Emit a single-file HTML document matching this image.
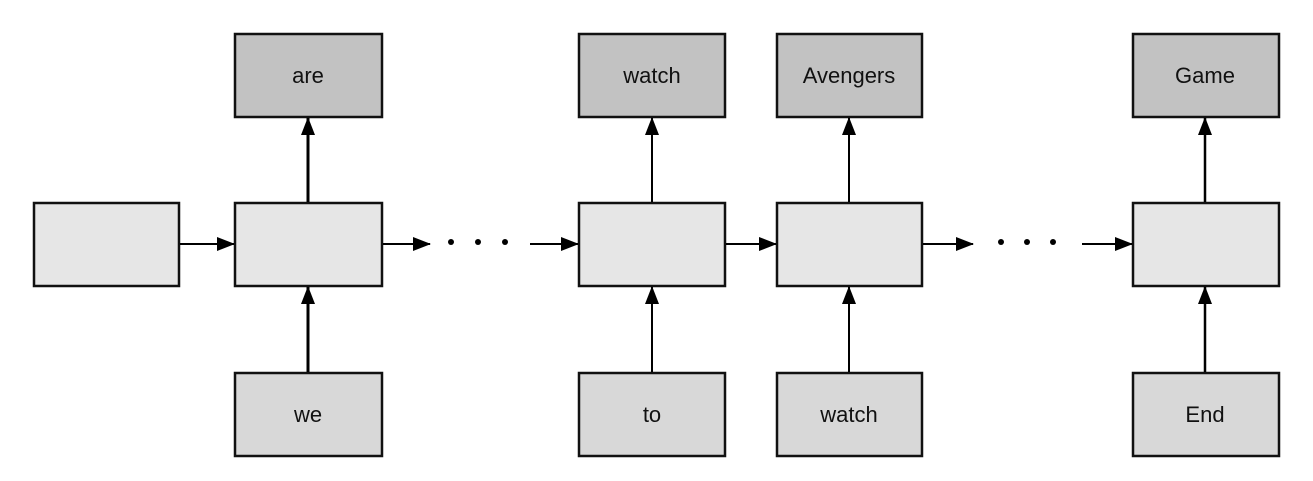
<!DOCTYPE html>
<html><head><meta charset="utf-8"><style>
html,body{margin:0;padding:0;background:#fff;width:1313px;height:481px;overflow:hidden}
svg{display:block}
text{font-family:"Liberation Sans",sans-serif;font-size:22px;fill:#111;text-anchor:middle}
</style></head><body>
<svg width="1313" height="481" viewBox="0 0 1313 481" xmlns="http://www.w3.org/2000/svg">
<defs>
<marker id="a" markerWidth="10" markerHeight="10" refX="9" refY="5" orient="auto" markerUnits="userSpaceOnUse">
<path d="M0,0 L10,5 L0,10 z" fill="#000"/></marker>
<marker id="b" viewBox="0 0 18 14" markerWidth="18" markerHeight="14" refX="17" refY="7" orient="auto" markerUnits="userSpaceOnUse">
<path d="M0,0 L18,7 L0,14 z" fill="#000"/></marker>
</defs>
<g stroke="#111" stroke-width="2.5">
<!-- top boxes -->
<rect x="235" y="34" width="147" height="83" fill="#c2c2c2"/>
<rect x="579" y="34" width="146" height="83" fill="#c2c2c2"/>
<rect x="777" y="34" width="145" height="83" fill="#c2c2c2"/>
<rect x="1133" y="34" width="146" height="83" fill="#c2c2c2"/>
<!-- middle -->
<rect x="34" y="203" width="145" height="83" fill="#e6e6e6"/>
<rect x="235" y="203" width="147" height="83" fill="#e6e6e6"/>
<rect x="579" y="203" width="146" height="83" fill="#e6e6e6"/>
<rect x="777" y="203" width="145" height="83" fill="#e6e6e6"/>
<rect x="1133" y="203" width="146" height="83" fill="#e6e6e6"/>
<!-- bottom -->
<rect x="235" y="373" width="147" height="83" fill="#d8d8d8"/>
<rect x="579" y="373" width="146" height="83" fill="#d8d8d8"/>
<rect x="777" y="373" width="145" height="83" fill="#d8d8d8"/>
<rect x="1133" y="373" width="146" height="83" fill="#d8d8d8"/>
</g>
<g stroke="#000" stroke-width="2.5" fill="none">
<!-- vertical up arrows -->
<line x1="308" y1="202" x2="308" y2="118" marker-end="url(#b)" stroke-width="3"/>
<line x1="652" y1="202" x2="652" y2="118" marker-end="url(#b)" stroke-width="2"/>
<line x1="849" y1="202" x2="849" y2="118" marker-end="url(#b)" stroke-width="2"/>
<line x1="1205" y1="202" x2="1205" y2="118" marker-end="url(#b)" stroke-width="2.5"/>
<line x1="308" y1="372" x2="308" y2="287" marker-end="url(#b)" stroke-width="3"/>
<line x1="652" y1="372" x2="652" y2="287" marker-end="url(#b)" stroke-width="2"/>
<line x1="849" y1="372" x2="849" y2="287" marker-end="url(#b)" stroke-width="2"/>
<line x1="1205" y1="372" x2="1205" y2="287" marker-end="url(#b)" stroke-width="2.5"/>
<!-- horizontal -->
<line x1="180" y1="244" x2="234" y2="244" marker-end="url(#b)" stroke-width="2"/>
<line x1="383" y1="244" x2="430" y2="244" marker-end="url(#b)" stroke-width="2"/>
<line x1="530" y1="244" x2="578" y2="244" marker-end="url(#b)" stroke-width="2"/>
<line x1="726" y1="244" x2="776" y2="244" marker-end="url(#b)" stroke-width="2"/>
<line x1="923" y1="244" x2="973" y2="244" marker-end="url(#b)" stroke-width="2"/>
<line x1="1082" y1="244" x2="1132" y2="244" marker-end="url(#b)" stroke-width="2"/>
</g>
<g fill="#000">
<circle cx="451" cy="242" r="3"/><circle cx="478" cy="242" r="3"/><circle cx="505" cy="242" r="3"/>
<circle cx="1001" cy="242" r="3"/><circle cx="1027" cy="242" r="3"/><circle cx="1053" cy="242" r="3"/>
</g>
<text x="308" y="83">are</text>
<text x="652" y="83">watch</text>
<text x="849" y="83">Avengers</text>
<text x="1205" y="83">Game</text>
<text x="308" y="422">we</text>
<text x="652" y="422">to</text>
<text x="849" y="422">watch</text>
<text x="1205" y="422">End</text>
</svg>
</body></html>
